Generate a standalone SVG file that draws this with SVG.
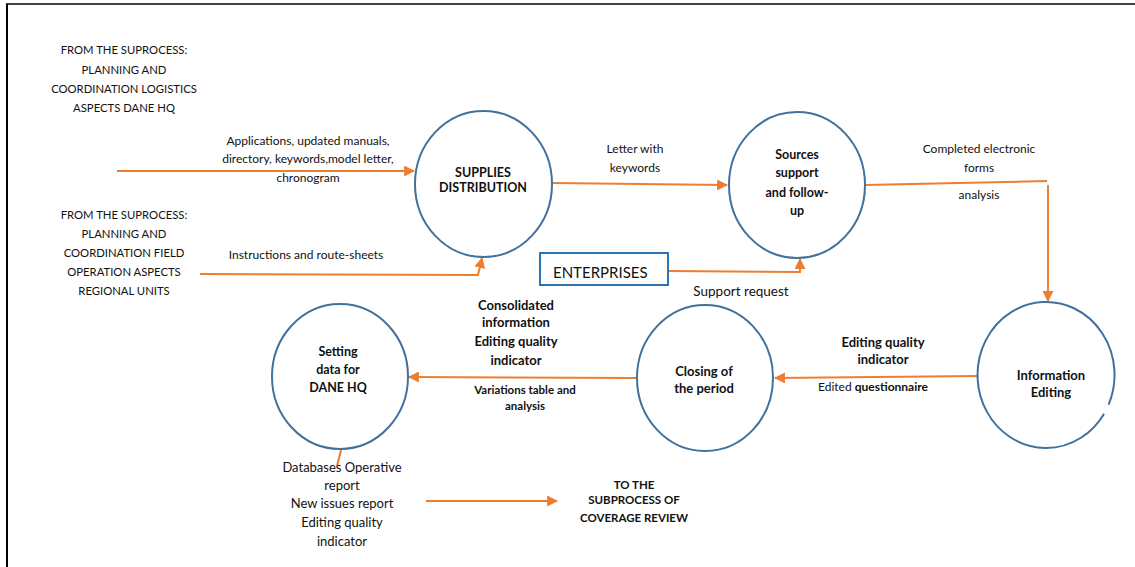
<svg xmlns="http://www.w3.org/2000/svg" width="1135" height="567" viewBox="0 0 1135 567">
  <style>
    text { font-family: Lato, "Liberation Sans", sans-serif; fill: #111; }
    .t { font-size: 12px; text-anchor: middle; }
    .u { font-size: 11.3px; text-anchor: middle; }
    .b { font-size: 12.5px; font-weight: bold; text-anchor: middle; }
    .bl { font-size: 13px; font-weight: bold; text-anchor: middle; }
    .bs { font-size: 11.5px; font-weight: bold; text-anchor: middle; }
    .m { font-size: 13px; text-anchor: middle; }
    .node { fill: #fff; stroke: #41719c; stroke-width: 2; }
    .flow { fill: none; stroke: #ed7d31; stroke-width: 2; }
  </style>
  <defs>
    <marker id="arrow" viewBox="0 0 10 10" refX="9" refY="5" markerWidth="5.5" markerHeight="5.5" orient="auto" markerUnits="strokeWidth">
      <path d="M0,0 L10,5 L0,10 z" fill="#ed7d31"/>
    </marker>
  </defs>
  <rect width="1135" height="567" fill="#fff"/>

  <!-- page frame -->
  <line x1="6" y1="4" x2="1135" y2="4" stroke="#000" stroke-width="1.5"/>
  <line x1="7" y1="4" x2="7" y2="567" stroke="#000" stroke-width="2"/>

  <!-- incoming sources -->
  <g id="source-logistics">
    <text class="u" x="124" y="54">FROM THE SUPROCESS:</text>
    <text class="u" x="124" y="74">PLANNING AND</text>
    <text class="u" x="124" y="93">COORDINATION LOGISTICS</text>
    <text class="u" x="124" y="112">ASPECTS DANE HQ</text>
  </g>
  <g id="source-field">
    <text class="u" x="124" y="219">FROM THE SUPROCESS:</text>
    <text class="u" x="124" y="238">PLANNING AND</text>
    <text class="u" x="124" y="257">COORDINATION FIELD</text>
    <text class="u" x="124" y="276">OPERATION ASPECTS</text>
    <text class="u" x="124" y="295">REGIONAL UNITS</text>
  </g>

  <!-- connectors -->
  <g id="connectors">
    <line class="flow" x1="117" y1="171" x2="414" y2="171" marker-end="url(#arrow)"/>
    <polyline class="flow" points="200,274 478,275 482,258" marker-end="url(#arrow)"/>
    <line class="flow" x1="552" y1="183" x2="727" y2="185" marker-end="url(#arrow)"/>
    <polyline class="flow" points="668,271 800,272 800,259" marker-end="url(#arrow)"/>
    <line class="flow" x1="865" y1="185" x2="1047" y2="181"/>
    <line class="flow" x1="1048" y1="185" x2="1048" y2="301" marker-end="url(#arrow)"/>
    <line class="flow" x1="978" y1="376" x2="775" y2="378" marker-end="url(#arrow)"/>
    <line class="flow" x1="637" y1="378" x2="409" y2="377" marker-end="url(#arrow)"/>
    <line class="flow" x1="341" y1="450" x2="337" y2="466"/>
    <line class="flow" x1="426" y1="501" x2="557" y2="501" marker-end="url(#arrow)"/>
  </g>

  <!-- connector labels -->
  <g id="labels">
    <text class="t" x="308" y="145">Applications, updated manuals,</text>
    <text class="t" x="308" y="163">directory, keywords,model letter,</text>
    <text class="t" x="308" y="182">chronogram</text>
    <text class="t" x="306" y="259">Instructions and route-sheets</text>
    <text class="t" x="635" y="153">Letter with</text>
    <text class="t" x="635" y="172">keywords</text>
    <text class="t" x="979" y="153">Completed electronic</text>
    <text class="t" x="979" y="172">forms</text>
    <text class="t" x="979" y="199">analysis</text>
    <text x="741" y="296" font-size="13.5" text-anchor="middle">Support request</text>
    <text class="bl" x="883" y="347">Editing quality</text>
    <text class="bl" x="883" y="364">indicator</text>
    <text class="t" x="873" y="391">Edited <tspan font-weight="bold">questionnaire</tspan></text>
    <text class="bl" x="516" y="310">Consolidated</text>
    <text class="bl" x="516" y="327">information</text>
    <text class="bl" x="516" y="346">Editing quality</text>
    <text class="bl" x="516" y="365">indicator</text>
    <text class="bs" x="525" y="394">Variations table and</text>
    <text class="bs" x="525" y="410">analysis</text>
    <text class="m" x="342" y="472">Databases Operative</text>
    <text class="m" x="342" y="490">report</text>
    <text class="m" x="342" y="508">New issues report</text>
    <text class="m" x="342" y="527">Editing quality</text>
    <text class="m" x="342" y="546">indicator</text>
  </g>

  <!-- process nodes -->
  <g id="supplies-distribution">
    <ellipse class="node" cx="483.5" cy="184" rx="68.5" ry="73"/>
    <text class="b" x="483" y="177">SUPPLIES</text>
    <text class="b" x="483" y="192">DISTRIBUTION</text>
  </g>
  <g id="sources-support">
    <ellipse class="node" cx="797" cy="185" rx="68" ry="73"/>
    <text class="b" x="797" y="159">Sources</text>
    <text class="b" x="797" y="177">support</text>
    <text class="b" x="797" y="197">and follow-</text>
    <text class="b" x="797" y="215">up</text>
  </g>
  <g id="enterprises">
    <rect x="540" y="253" width="128" height="32" fill="#fff" stroke="#2e75b6" stroke-width="2"/>
    <text x="553" y="278" font-size="15">ENTERPRISES</text>
  </g>
  <g id="information-editing">
    <path class="node" d="M1104.1 413.7 A68.5 73 0 1 1 1108.6 404.7"/>
    <text class="bl" x="1051" y="380">Information</text>
    <text class="bl" x="1051" y="397">Editing</text>
  </g>
  <g id="closing-period">
    <ellipse class="node" cx="705" cy="378" rx="68" ry="73"/>
    <text class="bl" x="704" y="376">Closing of</text>
    <text class="bl" x="704" y="393">the period</text>
  </g>
  <g id="setting-data">
    <ellipse class="node" cx="340" cy="376.5" rx="68" ry="72.5"/>
    <text class="b" x="338" y="356">Setting</text>
    <text class="b" x="338" y="374">data for</text>
    <text class="b" x="338" y="392">DANE HQ</text>
  </g>

  <!-- outgoing target -->
  <g id="target-coverage-review">
    <text class="bs" x="634" y="489">TO THE</text>
    <text class="bs" x="634" y="504">SUBPROCESS OF</text>
    <text class="bs" x="634" y="522">COVERAGE REVIEW</text>
  </g>
</svg>
